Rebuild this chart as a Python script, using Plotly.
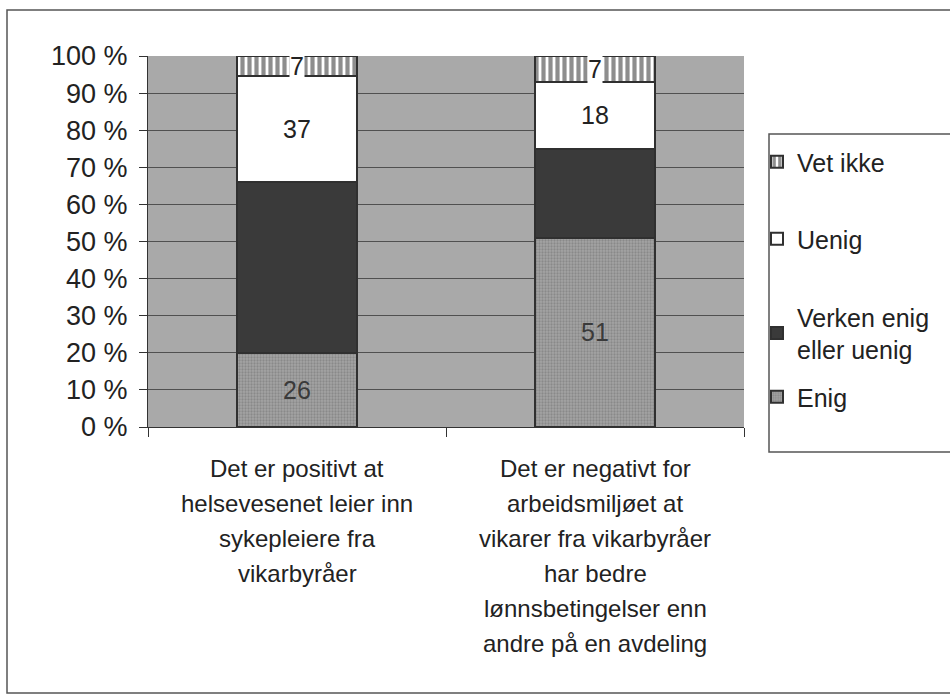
import plotly.graph_objects as go

# Survey answers (counts); the bars are normalised to 100 %
categories = [
    "Det er positivt at<br>helsevesenet leier inn<br>sykepleiere fra<br>vikarbyråer",
    "Det er negativt for<br>arbeidsmiljøet at<br>vikarer fra vikarbyråer<br>har bedre<br>lønnsbetingelser enn<br>andre på en avdeling",
]
enig = [26, 51]
verken = [60, 24]
uenig = [37, 18]
vet_ikke = [7, 7]

y_ticks = [0, 10, 20, 30, 40, 50, 60, 70, 80, 90, 100]
y_labels = [f"{v} %" for v in y_ticks]

FONT = "Liberation Sans, Arial, sans-serif"
W, H = 950, 695
L, R, T, B = 148, 206, 56, 268
pw, ph = W - L - R, H - T - B

def px_x(p):
    return (p - L) / pw

def px_y(p):
    return (H - B - p) / ph

fig = go.Figure()
edge = dict(color="#303030", width=2)

fig.add_bar(x=categories, y=enig, name="Enig", legend="legend4",
            marker=dict(color="#9a9a9a", line=edge,
                        pattern=dict(shape=".", fgcolor="#6e6e6e", bgcolor="#a4a4a4", size=3, solidity=0.45)),
            text=enig, textposition="inside", insidetextanchor="middle",
            textfont=dict(size=25, color="#3a3a3a", family=FONT))
fig.add_bar(x=categories, y=verken, name="Verken enig<br>eller uenig", legend="legend3",
            marker=dict(color="#3a3a3a", line=edge))
fig.add_bar(x=categories, y=uenig, name="Uenig", legend="legend2",
            marker=dict(color="#ffffff", line=edge),
            text=uenig, textposition="inside", insidetextanchor="middle",
            textfont=dict(size=25, color="#222222", family=FONT))
fig.add_bar(x=categories, y=vet_ikke, name="Vet ikke", legend="legend",
            marker=dict(color="#ffffff", line=edge,
                        pattern=dict(shape="|", fgcolor="#1e1e1e", bgcolor="#ffffff", size=7, solidity=0.6)))

# "Vet ikke" labels sit on a white patch in the middle of the striped segment
for i, cat in enumerate(categories):
    total = enig[i] + verken[i] + uenig[i] + vet_ikke[i]
    mid = 100 * (total - vet_ikke[i] / 2) / total
    fig.add_annotation(x=cat, y=mid, text=str(vet_ikke[i]), showarrow=False,
                       font=dict(size=25, color="#222222", family=FONT),
                       bgcolor="#ffffff", borderpad=0)

# category labels, one line at a time for the wider line spacing
for cat in categories:
    for k, line in enumerate(cat.split("<br>")):
        fig.add_annotation(x=cat, xref="x", y=px_y(468 + 35 * k), yref="paper",
                           text=line, showarrow=False, yanchor="middle",
                           font=dict(size=24, color="#222222", family=FONT))

# outer frame and legend box
fig.add_shape(type="rect", xref="paper", yref="paper",
              x0=px_x(7), x1=px_x(960), y0=px_y(693), y1=px_y(10),
              line=dict(color="#555555", width=1.5), layer="below")
fig.add_shape(type="rect", xref="paper", yref="paper",
              x0=px_x(769), x1=px_x(960), y0=px_y(452), y1=px_y(134),
              line=dict(color="#555555", width=1.5), layer="below")

def legend_at(top):
    return dict(x=px_x(757), y=px_y(top), xanchor="left", yanchor="top",
                font=dict(size=25, family=FONT, color="#222222"),
                bgcolor="rgba(0,0,0,0)", borderwidth=0)

fig.update_layout(
    width=W, height=H,
    margin=dict(l=L, r=R, t=T, b=B),
    barmode="stack", barnorm="percent", bargap=0.595,
    paper_bgcolor="#ffffff", plot_bgcolor="#a9a9a9",
    font=dict(family=FONT, size=25, color="#222222"),
    showlegend=True,
    legend=legend_at(139),
    legend2=legend_at(216),
    legend3=legend_at(294),
    legend4=legend_at(374),
)
fig.update_yaxes(range=[0, 100], tickmode="array", tickvals=y_ticks, ticktext=y_labels,
                 ticks="outside", ticklen=8, tickcolor="#333333",
                 showgrid=True, gridcolor="#505050", gridwidth=1,
                 showline=True, linecolor="#333333", linewidth=1,
                 ticklabelstandoff=6, tickfont=dict(size=27), zeroline=False)
fig.update_xaxes(ticks="outside", tickson="boundaries", ticklen=9, tickcolor="#333333",
                 showline=True, linecolor="#333333", linewidth=1,
                 showticklabels=False)

fig.write_html("out.html")
